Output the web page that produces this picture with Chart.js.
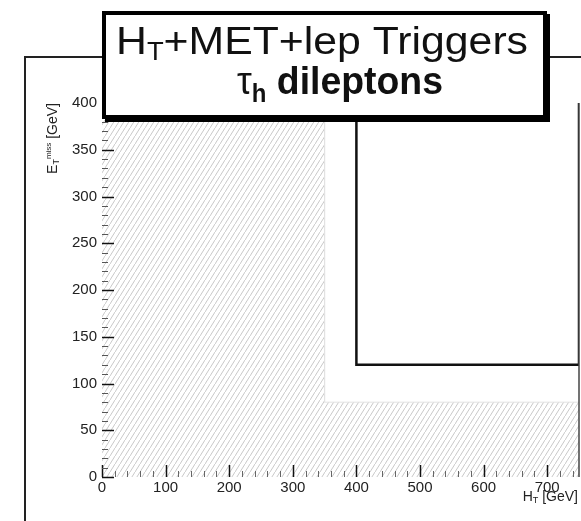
<!DOCTYPE html>
<html><head><meta charset="utf-8">
<script src="https://cdn.jsdelivr.net/npm/chart.js@4.4.1/dist/chart.umd.min.js"></script>
<style>html,body{margin:0;padding:0;background:#fff;overflow:hidden}canvas{display:block}</style>
</head><body>
<canvas id="c" width="581" height="521"></canvas>
<script>
// ---- data ----
const xTickValues = [0, 100, 200, 300, 400, 500, 600, 700];
const yTickValues = [0, 50, 100, 150, 200, 250, 300, 350, 400];
const xRange = [0, 750];
const yRange = [0, 400];
const xMinorStep = 20;
const yMinorStep = 10;
// hatched region (trigger plateau not reached): H_T vs MET boundary
const hatchHT  = [0, 350, 350, 750];
const hatchMET = [400, 400, 80, 80];
// signal region box
const signalHT  = [400, 400, 750, 750];
const signalMET = [400, 120, 120, 400];
const titleLine1 = [['H', 'n'], ['T', 'sub'], ['+MET+lep Triggers', 'n']];
const titleLine2 = [['τ', 'n'], ['h', 'bsub'], [' dileptons', 'b']];
const xTitle = [['H', 'n'], ['T', 'sub'], [' [GeV]', 'n']];
const yTitle = [['E', 'n'], ['T', 'sub'], ['miss', 'sup'], [' [GeV]', 'n']];

const FONT = '"Liberation Sans", Arial, sans-serif';
const canvas = document.getElementById('c');
const mainCtx = canvas.getContext('2d');

function makeHatch() {
  const w = 5, h = 8;
  const c = document.createElement('canvas');
  c.width = w; c.height = h;
  const g = c.getContext('2d');
  g.strokeStyle = '#c9c9c9';
  g.lineWidth = 1;
  g.beginPath();
  for (const [dx, dy] of [[0, 0], [-w, h], [w, -h]]) {
    g.moveTo(dx, h + dy); g.lineTo(w + dx, dy);
  }
  g.stroke();
  return mainCtx.createPattern(c, 'repeat');
}

function toPts(xs, ys) { return xs.map((v, i) => ({ x: v, y: ys[i] })); }

function richParts(parts, size) {
  return parts.map(([t, s]) => {
    let f, dy = 0;
    if (s === 'n') f = `${size}px ${FONT}`;
    else if (s === 'b') f = `bold ${size}px ${FONT}`;
    else if (s === 'sub') { f = `${Math.round(size * 0.65)}px ${FONT}`; dy = size * 0.15; }
    else if (s === 'bsub') { f = `bold ${Math.round(size * 0.65)}px ${FONT}`; dy = size * 0.2; }
    else if (s === 'sup') { f = `${Math.round(size * 0.55)}px ${FONT}`; dy = -size * 0.45; }
    return { t, f, dy };
  });
}
function richWidth(ctx, rp) {
  let w = 0;
  for (const p of rp) { ctx.font = p.f; w += ctx.measureText(p.t).width; }
  return w;
}
function drawRich(ctx, rp, x, y, sx) {
  ctx.save();
  ctx.translate(x, y);
  ctx.scale(sx, 1);
  ctx.textBaseline = 'alphabetic';
  ctx.textAlign = 'left';
  let cx = 0;
  for (const p of rp) {
    ctx.font = p.f;
    ctx.fillText(p.t, cx, p.dy);
    cx += ctx.measureText(p.t).width;
  }
  ctx.restore();
}

const decor = {
  id: 'decor',
  beforeDraw(chart) {
    const ctx = chart.ctx;
    ctx.save();
    ctx.fillStyle = '#fff';
    ctx.fillRect(0, 0, chart.width, chart.height);
    ctx.restore();
  },
  afterDatasetsDraw(chart) {
    const { ctx, chartArea: a, scales: { x, y } } = chart;
    ctx.save();
    // right frame edge
    ctx.strokeStyle = '#444';
    ctx.lineWidth = 1.5;
    ctx.beginPath();
    ctx.moveTo(a.right, a.top); ctx.lineTo(a.right, a.bottom);
    ctx.stroke();
    // inside ticks (ROOT style)
    for (let v = xRange[0]; v <= xRange[1]; v += xMinorStep) {
      const major = xTickValues.includes(v);
      const px = Math.round(x.getPixelForValue(v)) + 0.5;
      ctx.strokeStyle = major ? '#111' : '#666';
      ctx.lineWidth = major ? 1.5 : 1;
      ctx.beginPath();
      ctx.moveTo(px, a.bottom);
      ctx.lineTo(px, a.bottom - (major ? 12 : 6));
      ctx.stroke();
    }
    for (let v = yRange[0]; v <= yRange[1]; v += yMinorStep) {
      const major = yTickValues.includes(v);
      const py = Math.round(y.getPixelForValue(v)) + 0.5;
      ctx.strokeStyle = major ? '#111' : '#555';
      ctx.lineWidth = major ? 1.5 : 1;
      ctx.beginPath();
      ctx.moveTo(a.left, py);
      ctx.lineTo(a.left + (major ? 12 : 6), py);
      ctx.stroke();
    }
    ctx.restore();
  },
  afterDraw(chart) {
    const ctx = chart.ctx;
    ctx.save();
    // pad frame
    ctx.strokeStyle = '#222';
    ctx.lineWidth = 2;
    ctx.beginPath();
    ctx.moveTo(25, 521); ctx.lineTo(25, 57); ctx.lineTo(581, 57);
    ctx.stroke();

    // axis titles
    ctx.fillStyle = '#222';
    const xr = richParts(xTitle, 14);
    const xw = richWidth(ctx, xr);
    drawRich(ctx, xr, 578 - xw, 501, 1);

    const yr = richParts(yTitle, 14);
    const yw = richWidth(ctx, yr);
    ctx.save();
    ctx.translate(57, 103 + yw);
    ctx.rotate(-Math.PI / 2);
    drawRich(ctx, yr, 0, 0, 1);
    ctx.restore();

    // title box
    const bx = 102, by = 11, bw = 445, bh = 108;
    ctx.fillStyle = '#000';
    ctx.fillRect(bx + 3, by + 3, bw, bh);
    ctx.fillStyle = '#fff';
    ctx.fillRect(bx, by, bw, bh);
    ctx.strokeStyle = '#000';
    ctx.lineWidth = 4;
    ctx.strokeRect(bx + 2, by + 2, bw - 4, bh - 4);

    ctx.fillStyle = '#111';
    const l1 = richParts(titleLine1, 39);
    const w1 = richWidth(ctx, l1);
    drawRich(ctx, l1, 116, 54, 412 / w1);
    const l2 = richParts(titleLine2, 39);
    const w2 = richWidth(ctx, l2);
    drawRich(ctx, l2, 237, 94, 206 / w2);
    ctx.restore();
  }
};

const hatch = makeHatch();

new Chart(canvas, {
  type: 'line',
  data: {
    datasets: [
      {
        data: toPts(hatchHT, hatchMET),
        fill: 'origin',
        backgroundColor: hatch,
        borderColor: '#e2e2e2',
        borderWidth: 1,
        pointRadius: 0,
        tension: 0
      },
      {
        data: toPts(signalHT, signalMET),
        fill: false,
        borderColor: '#111',
        borderWidth: 2.5,
        pointRadius: 0,
        tension: 0
      }
    ]
  },
  options: {
    responsive: false,
    animation: false,
    devicePixelRatio: 1,
    layout: { padding: { top: 103, right: 2, left: 0, bottom: 0 } },
    plugins: { legend: { display: false }, tooltip: { enabled: false }, title: { display: false } },
    scales: {
      x: {
        type: 'linear',
        min: xRange[0], max: xRange[1],
        grid: { display: false, drawTicks: false },
        border: { display: false },
        ticks: { font: { family: FONT, size: 15 }, color: '#222', padding: 2, maxRotation: 0, autoSkip: false },
        afterBuildTicks: s => { s.ticks = xTickValues.map(v => ({ value: v })); },
        afterFit: s => { s.height = 44; }
      },
      y: {
        type: 'linear',
        min: yRange[0], max: yRange[1],
        grid: { display: false, drawTicks: false },
        border: { display: false },
        ticks: { font: { family: FONT, size: 15 }, color: '#222', padding: 5, autoSkip: false },
        afterBuildTicks: s => { s.ticks = yTickValues.map(v => ({ value: v })); },
        afterFit: s => { s.width = 102; }
      }
    }
  },
  plugins: [decor]
});
</script>
</body></html>
